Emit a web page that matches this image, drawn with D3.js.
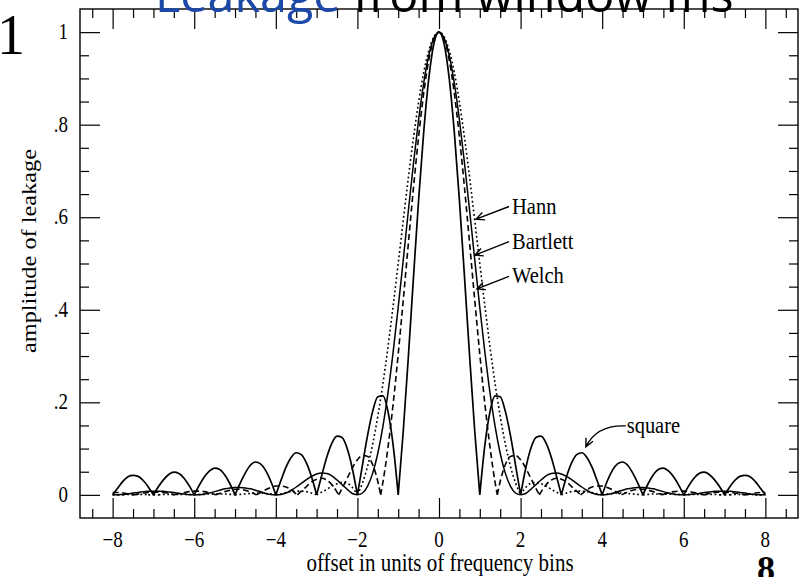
<!DOCTYPE html>
<html><head><meta charset="utf-8">
<script src="https://cdn.jsdelivr.net/npm/d3@7"></script>
<style>html,body{margin:0;padding:0;background:#fff;overflow:hidden}</style>
</head><body>
<svg id="chart" width="806" height="577" xmlns="http://www.w3.org/2000/svg"></svg>
<script>
// ---- data ----
const offsets = [
-8,-7.875,-7.75,-7.625,-7.5,-7.375,-7.25,-7.125,
-7,-6.875,-6.75,-6.625,-6.5,-6.375,-6.25,-6.125,
-6,-5.875,-5.75,-5.625,-5.5,-5.375,-5.25,-5.125,
-5,-4.875,-4.75,-4.625,-4.5,-4.375,-4.25,-4.125,
-4,-3.875,-3.75,-3.625,-3.5,-3.375,-3.25,-3.125,
-3,-2.875,-2.75,-2.625,-2.5,-2.375,-2.25,-2.125,
-2,-1.875,-1.75,-1.625,-1.5,-1.375,-1.25,-1.125,
-1,-0.875,-0.75,-0.625,-0.5,-0.375,-0.25,-0.125,
0,
0.125,0.25,0.375,0.5,0.625,0.75,0.875,1,
1.125,1.25,1.375,1.5,1.625,1.75,1.875,2,
2.125,2.25,2.375,2.5,2.625,2.75,2.875,3,
3.125,3.25,3.375,3.5,3.625,3.75,3.875,4,
4.125,4.25,4.375,4.5,4.625,4.75,4.875,5,
5.125,5.25,5.375,5.5,5.625,5.75,5.875,6,
6.125,6.25,6.375,6.5,6.625,6.75,6.875,7,
7.125,7.25,7.375,7.5,7.625,7.75,7.875,8];

const square = [
0,0.015,0.029,0.039,0.042,0.040,0.031,0.017,
0,0.018,0.033,0.044,0.049,0.046,0.036,0.020,
0,0.021,0.039,0.052,0.058,0.055,0.043,0.024,
0,0.025,0.047,0.064,0.071,0.067,0.053,0.030,
0,0.031,0.060,0.081,0.091,0.087,0.069,0.039,
0,0.042,0.082,0.112,0.127,0.124,0.100,0.057,
0,0.065,0.129,0.181,0.212,0.214,0.180,0.108,
0,0.139,0.300,0.471,0.637,0.784,0.900,0.975,
1.000,
0.975,0.900,0.784,0.637,0.471,0.300,0.139,0,
0.108,0.180,0.214,0.212,0.181,0.129,0.065,0,
0.057,0.100,0.124,0.127,0.112,0.082,0.042,0,
0.039,0.069,0.087,0.091,0.081,0.060,0.031,0,
0.030,0.053,0.067,0.071,0.064,0.047,0.025,0,
0.024,0.043,0.055,0.058,0.052,0.039,0.021,0,
0.020,0.036,0.046,0.049,0.044,0.033,0.018,0,
0.017,0.031,0.040,0.042,0.039,0.029,0.015,0];

const bartlett = [
0,0.000,0.001,0.002,0.004,0.005,0.007,0.008,
0.008,0.008,0.008,0.006,0.005,0.003,0.002,0.000,
0,0.000,0.002,0.004,0.007,0.010,0.013,0.015,
0.016,0.016,0.015,0.013,0.010,0.007,0.003,0.001,
0,0.001,0.004,0.010,0.017,0.025,0.033,0.040,
0.045,0.047,0.046,0.041,0.032,0.022,0.012,0.003,
0,0.004,0.019,0.047,0.090,0.148,0.221,0.308,
0.405,0.509,0.615,0.717,0.811,0.890,0.950,0.987,
1.000,
0.987,0.950,0.890,0.811,0.717,0.615,0.509,0.405,
0.308,0.221,0.148,0.090,0.047,0.019,0.004,0,
0.003,0.012,0.022,0.032,0.041,0.046,0.047,0.045,
0.040,0.033,0.025,0.017,0.010,0.004,0.001,0,
0.001,0.003,0.007,0.010,0.013,0.015,0.016,0.016,
0.015,0.013,0.010,0.007,0.004,0.002,0.000,0,
0.000,0.002,0.003,0.005,0.006,0.008,0.008,0.008,
0.008,0.007,0.005,0.004,0.002,0.001,0.000,0];

const welch = [
0.005,0.005,0.004,0.002,0.000,0.002,0.004,0.005,
0.006,0.006,0.005,0.003,0.000,0.003,0.005,0.007,
0.008,0.008,0.007,0.004,0.001,0.003,0.007,0.010,
0.012,0.012,0.010,0.006,0.001,0.005,0.011,0.016,
0.019,0.019,0.017,0.011,0.002,0.008,0.018,0.028,
0.034,0.036,0.032,0.022,0.006,0.014,0.036,0.058,
0.076,0.085,0.083,0.065,0.029,0.027,0.103,0.196,
0.304,0.422,0.544,0.664,0.774,0.868,0.940,0.985,
1.000,
0.985,0.940,0.868,0.774,0.664,0.544,0.422,0.304,
0.196,0.103,0.027,0.029,0.065,0.083,0.085,0.076,
0.058,0.036,0.014,0.006,0.022,0.032,0.036,0.034,
0.028,0.018,0.008,0.002,0.011,0.017,0.019,0.019,
0.016,0.011,0.005,0.001,0.006,0.010,0.012,0.012,
0.010,0.007,0.003,0.001,0.004,0.007,0.008,0.008,
0.007,0.005,0.003,0.000,0.003,0.005,0.006,0.006,
0.005,0.004,0.002,0.000,0.002,0.004,0.005,0.005];
// offsets where the Welch curve touches zero
const welchZeroOffsets = [-7.487,-6.484,-5.482,-4.477,-3.471,-2.459,-1.430,1.430,2.459,3.471,4.477,5.482,6.484,7.487];

const hann = [
0,0.000,0.000,0.001,0.001,0.001,0.001,0.000,
0,0.000,0.001,0.001,0.001,0.001,0.001,0.001,
0,0.001,0.001,0.002,0.002,0.002,0.002,0.001,
0,0.001,0.002,0.003,0.004,0.004,0.003,0.002,
0,0.002,0.005,0.007,0.008,0.008,0.007,0.004,
0,0.006,0.012,0.019,0.024,0.027,0.025,0.016,
0,0.026,0.062,0.110,0.170,0.240,0.320,0.408,
0.500,0.594,0.686,0.772,0.849,0.913,0.960,0.990,
1.000,
0.990,0.960,0.913,0.849,0.772,0.686,0.594,0.500,
0.408,0.320,0.240,0.170,0.110,0.062,0.026,0,
0.016,0.025,0.027,0.024,0.019,0.012,0.006,0,
0.004,0.007,0.008,0.008,0.007,0.005,0.002,0,
0.002,0.003,0.004,0.004,0.003,0.002,0.001,0,
0.001,0.002,0.002,0.002,0.002,0.001,0.001,0,
0.001,0.001,0.001,0.001,0.001,0.001,0.000,0,
0.000,0.001,0.001,0.001,0.001,0.000,0.000,0];

const xTicks = [-8,-6,-4,-2,0,2,4,6,8];
const xTickLabels = ["\u22128","\u22126","\u22124","\u22122","0","2","4","6","8"];
const yTicks = [0,0.2,0.4,0.6,0.8,1];
const yTickLabels = ["0",".2",".4",".6",".8","1"];
const xTitle = "offset in units of frequency bins";
const yTitle = "amplitude of leakage";
const arrowLabels = ["Hann","Bartlett","Welch"];

// ---- layout ----
const W = 806, H = 577;
const L = 80, R = 798, T = 9, B = 518;
const SY = 1.16; // vertical stretch of the scanned figure text
const serif = "'Liberation Serif','Times New Roman',serif";

const svg = d3.select("#chart");
svg.append("rect").attr("width", W).attr("height", H).attr("fill", "#fff");

const x = d3.scaleLinear().domain([-8.8, 8.8]).range([L, R]);
const y = d3.scaleLinear().domain([-0.05, 1.05]).range([B, T]);

function txt(px, py, s, size, anchor, extra) {
  return svg.append("text")
    .attr("transform", `translate(${px},${py}) scale(1,${SY})` + (extra || ""))
    .attr("font-family", serif).attr("font-size", size)
    .attr("text-anchor", anchor || "start").attr("fill", "#000").text(s);
}

// ---- axes (ticks inward on all four sides) ----
const xMinor = d3.range(-8.5, 8.51, 0.5).filter(v => !xTicks.includes(v));
const yMinor = d3.range(-0.05, 1.051, 0.05).map(v => +v.toFixed(2)).filter(v => !yTicks.includes(v) && v > -0.049 && v < 1.049);

function styleAxis(g) {
  g.select(".domain").remove();
  g.selectAll(".tick line").attr("stroke", "#000").attr("stroke-width", 1.2);
  g.selectAll(".tick text").remove();
}
const major = 20, minor = 9;
svg.append("g").attr("transform", `translate(0,${B})`).call(d3.axisBottom(x).tickValues(xTicks).tickSize(-major)).call(styleAxis);
svg.append("g").attr("transform", `translate(0,${B})`).call(d3.axisBottom(x).tickValues(xMinor).tickSize(-minor)).call(styleAxis);
svg.append("g").attr("transform", `translate(0,${T})`).call(d3.axisTop(x).tickValues(xTicks).tickSize(-major)).call(styleAxis);
svg.append("g").attr("transform", `translate(0,${T})`).call(d3.axisTop(x).tickValues(xMinor).tickSize(-minor)).call(styleAxis);
svg.append("g").attr("transform", `translate(${L},0)`).call(d3.axisLeft(y).tickValues(yTicks).tickSize(-major)).call(styleAxis);
svg.append("g").attr("transform", `translate(${L},0)`).call(d3.axisLeft(y).tickValues(yMinor).tickSize(-minor)).call(styleAxis);
svg.append("g").attr("transform", `translate(${R},0)`).call(d3.axisRight(y).tickValues(yTicks).tickSize(-major)).call(styleAxis);
svg.append("g").attr("transform", `translate(${R},0)`).call(d3.axisRight(y).tickValues(yMinor).tickSize(-minor)).call(styleAxis);

svg.append("rect").attr("x", L).attr("y", T).attr("width", R - L).attr("height", B - T)
  .attr("fill", "none").attr("stroke", "#000").attr("stroke-width", 1.4);

// tick labels
xTicks.forEach((v, i) => txt(x(v), 547, xTickLabels[i], 19, "middle"));
yTicks.forEach((v, i) => txt(68, y(v) + 7, yTickLabels[i], 19, "end"));

// axis titles
txt((L + R) / 2 + 1, 571, xTitle, 21, "middle");
txt(36, 251, yTitle, 21, "middle", " rotate(-90)");

// ---- curves ----
function pointsOf(vals) { return offsets.map((o, i) => [o, vals[i]]); }
const welchPts = pointsOf(welch).concat(welchZeroOffsets.map(o => [o, 0])).sort((a, b) => a[0] - b[0]);

function splitAtZeros(pts) {
  const segs = []; let cur = [];
  pts.forEach(p => {
    cur.push(p);
    if (p[1] === 0 && cur.length > 1) { segs.push(cur); cur = [p]; }
  });
  if (cur.length > 1) segs.push(cur);
  return segs;
}
const line = d3.line().x(d => x(d[0])).y(d => y(d[1])).curve(d3.curveMonotoneX);
function pathOf(pts) { return splitAtZeros(pts).map(s => line(s)).join(""); }

const series = [
  { name: "Hann", pts: pointsOf(hann), dash: "1.8,2.6", w: 1.6 },
  { name: "Welch", pts: welchPts, dash: "6,3.5", w: 1.6 },
  { name: "Bartlett", pts: pointsOf(bartlett), dash: null, w: 1.5 },
  { name: "square", pts: pointsOf(square), dash: null, w: 1.7 }
];
series.forEach(s => {
  svg.append("path").attr("d", pathOf(s.pts)).attr("fill", "none")
    .attr("stroke", "#000").attr("stroke-width", s.w)
    .attr("stroke-linejoin", "round")
    .attr("stroke-dasharray", s.dash);
});

// ---- annotations ----
function arrowHead(tx, ty, ang) {
  const Lh = 9, th = 0.45;
  const p1 = [tx - Lh * Math.cos(ang - th), ty - Lh * Math.sin(ang - th)];
  const p2 = [tx - Lh * Math.cos(ang + th), ty - Lh * Math.sin(ang + th)];
  return `M${p1[0]},${p1[1]}L${tx},${ty}L${p2[0]},${p2[1]}`;
}
const annGeom = [
  { tip: [0.91, 0.596], text: [1.79, 0.608] },
  { tip: [0.88, 0.518], text: [1.79, 0.532] },
  { tip: [0.93, 0.445], text: [1.79, 0.457] }
];
arrowLabels.forEach((lab, i) => {
  const g = annGeom[i];
  const tx = x(g.tip[0]), ty = y(g.tip[1]);
  const sx = x(g.text[0]) - 3, sy = y(g.text[1]) - 7;
  const ang = Math.atan2(ty - sy, tx - sx);
  svg.append("path").attr("d", `M${sx},${sy}L${tx},${ty}` + arrowHead(tx, ty, ang))
    .attr("fill", "none").attr("stroke", "#000").attr("stroke-width", 1.4);
  txt(x(g.text[0]), y(g.text[1]), lab, 20.5, "start");
});
// "square" curved arrow
{
  const sx = x(4.58), sy = y(0.149);
  const tx = x(3.6), ty = y(0.104);
  const c1 = [sx - 20, sy - 1], c2 = [tx + 7, ty - 14];
  const ang = Math.atan2(ty - c2[1], tx - c2[0]);
  svg.append("path").attr("d", `M${sx},${sy}C${c1[0]},${c1[1]} ${c2[0]},${c2[1]} ${tx},${ty}` + arrowHead(tx, ty, ang))
    .attr("fill", "none").attr("stroke", "#000").attr("stroke-width", 1.4);
  txt(x(4.6), y(0.134), "square", 20.5, "start");
}

// ---- page fragments around the figure ----
const title = svg.append("text").attr("x", 155).attr("y", 12)
  .attr("font-family", "'Open Sans','DejaVu Sans',sans-serif").attr("font-size", 48.5);
title.append("tspan").attr("fill", "#1c48a8").text("Leakage");
title.append("tspan").attr("fill", "#000").text(" from window fns");
svg.append("text").attr("x", -3).attr("y", 54).attr("font-family", serif).attr("font-size", 56).attr("fill", "#000").text("1");
svg.append("text").attr("x", 766).attr("y", 581).attr("text-anchor", "middle").attr("font-family", serif)
  .attr("font-weight", "bold").attr("font-size", 36).attr("fill", "#000").text("8");
</script>
</body></html>
